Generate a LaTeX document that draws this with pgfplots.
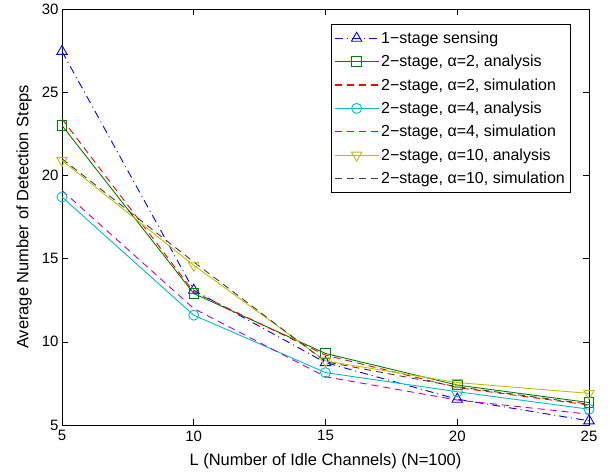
\documentclass[border=0pt]{standalone}
\usepackage{fontspec}
\setmainfont{Liberation Sans}
\usepackage{pgfplots}
\pgfplotsset{compat=1.18}
\definecolor{mgreen}{rgb}{0,0.5,0}
\definecolor{mcyan}{rgb}{0,0.75,0.75}
\definecolor{mmag}{rgb}{0.75,0,0.75}
\definecolor{myel}{rgb}{0.75,0.75,0}
\definecolor{mgray}{rgb}{0.25,0.25,0.25}

\begin{document}
\begin{tikzpicture}
\begin{axis}[
    at={(0,0)}, anchor=south west,
    scale only axis,
    width=527pt, height=416pt,
    xmin=5, xmax=25, ymin=5, ymax=30,
    xtick={5,10,15,20,25},
    ytick={5,10,15,20,25,30},
    tick align=inside,
    major tick length=6pt,
    tick pos=both,
    /pgf/number format/assume math mode=true,
    tick label style={font=\fontsize{15}{18}\selectfont},
    xticklabel style={yshift=-2pt},
    label style={font=\fontsize{16.5}{19}\selectfont},
    xlabel={L (Number of Idle Channels) (N=100)},
    ylabel={Average Number of Detection Steps},
    xlabel style={yshift=-6pt},
    ylabel style={yshift=3pt},
    axis line style={line width=0.8pt},
    every tick/.style={black, line width=0.6pt},
    legend cell align=left,
    legend style={at={(0.964,0.964)}, anchor=north east,
        font=\fontsize{16}{19}\selectfont,
        row sep=6.3pt, inner xsep=3pt, inner ysep=5.5pt},
    legend image code/.code={%
        \draw[mark repeat=2, mark phase=2, #1]
        plot coordinates {(4pt,0pt) (26pt,0pt) (48pt,0pt)};},
    legend image post style={line width=1.2pt},
]
\addplot[color=blue, line width=0.9pt, dash pattern=on 8pt off 4pt on 1pt off 4pt, mark=triangle, mark size=6pt, mark options={solid, line width=0.9pt}]
  coordinates {(5,27.45) (10,13.1) (15,8.75) (20,6.55) (25,5.25)};
\addplot[color=mgreen, line width=0.9pt, mark=square, mark size=4.8pt, mark options={line width=0.9pt}]
  coordinates {(5,23.0) (10,12.9) (15,9.3) (20,7.4) (25,6.35)};
\addplot[color=red, line width=0.9pt, dash pattern=on 7pt off 5pt]
  coordinates {(5,23.4) (10,13.0) (15,9.2) (20,7.25) (25,6.2)};
\addplot[color=mcyan, line width=0.9pt, mark=o, mark size=5pt, mark options={line width=0.9pt}]
  coordinates {(5,18.7) (10,11.6) (15,8.15) (20,7.0) (25,5.95)};
\addplot[color=mmag, line width=0.9pt, dash pattern=on 7pt off 5pt]
  coordinates {(5,19.1) (10,12.0) (15,7.9) (20,6.5) (25,5.65)};
\addplot[color=myel, line width=0.9pt, mark=triangle, mark size=6pt, mark options={rotate=180, line width=0.9pt}]
  coordinates {(5,20.9) (10,14.6) (15,8.85) (20,7.55) (25,6.9)};
\addplot[color=mgray, line width=0.9pt, dash pattern=on 7pt off 5pt]
  coordinates {(5,21.0) (10,14.8) (15,8.8) (20,7.3) (25,6.25)};
\legend{1−stage sensing,
  {2−stage, α=2, analysis},
  {2−stage, α=2, simulation},
  {2−stage, α=4, analysis},
  {2−stage, α=4, simulation},
  {2−stage, α=10, analysis},
  {2−stage, α=10, simulation}}
\end{axis}
\path[use as bounding box] (-62pt,-47pt) rectangle (548pt,425pt);
\end{tikzpicture}
\end{document}
